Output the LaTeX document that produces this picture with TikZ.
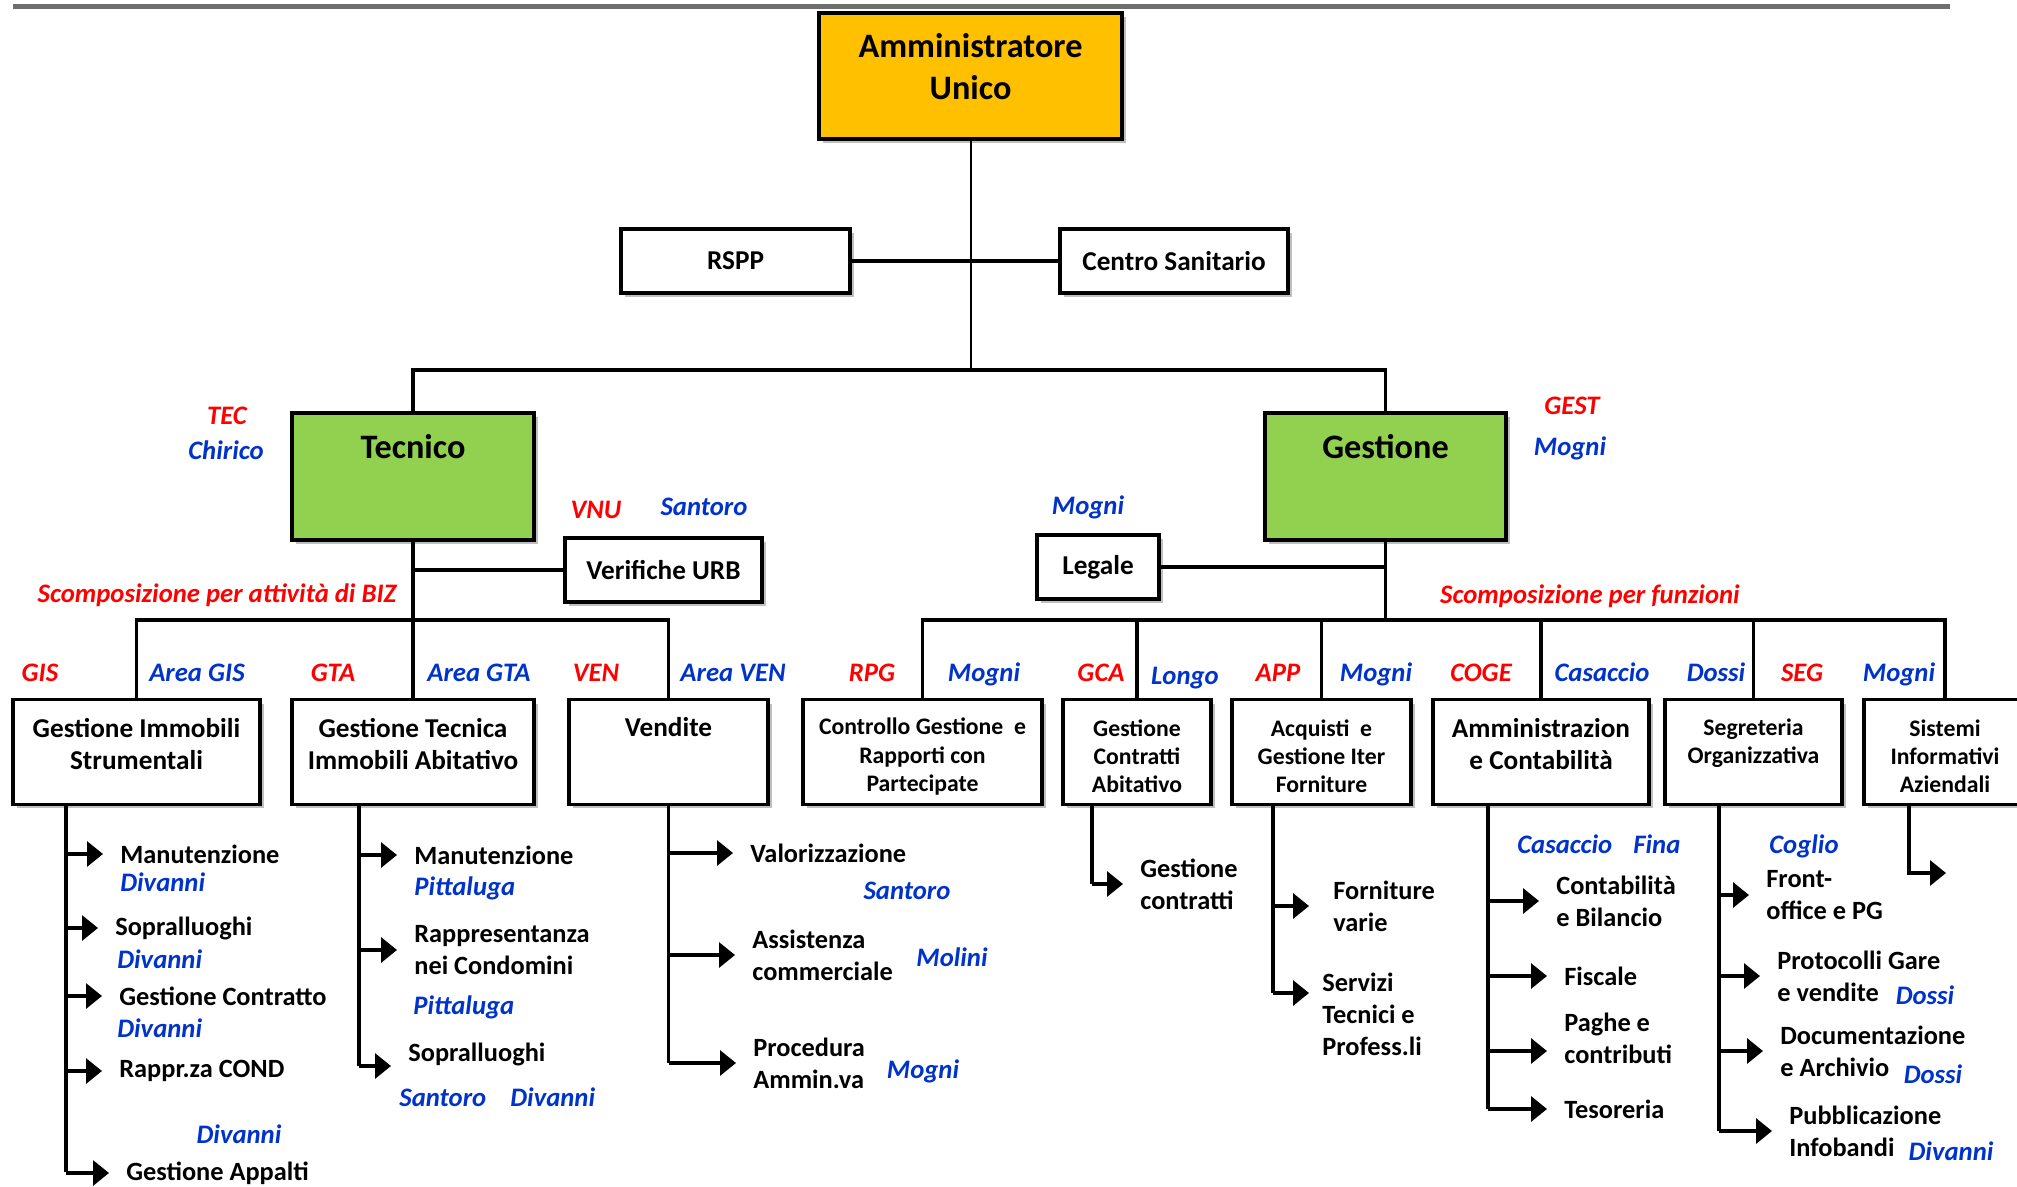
\documentclass[tikz,border=0pt]{standalone}
\usepackage{fontspec}
\setmainfont{Carlito}
\usetikzlibrary{arrows.meta,shadows}
\definecolor{unicoorange}{RGB}{255,192,0}
\definecolor{areagreen}{RGB}{146,208,80}
\definecolor{codered}{RGB}{255,0,0}
\definecolor{nameblue}{RGB}{0,51,204}
\definecolor{railgray}{RGB}{110,110,110}

\begin{document}
\begin{tikzpicture}[
    x=0.02cm, y=-0.02cm,
    box/.style={rectangle,draw,line width=0.07cm,fill=white,align=center,inner sep=0pt,
      drop shadow={shadow xshift=0.08cm,shadow yshift=-0.08cm,fill=black!25,opacity=1}},
    topbox/.style={box,font=\fontsize{19.5}{24}\selectfont\bfseries},
    mainbox/.style={box,font=\fontsize{15.5}{18.5}\selectfont\bfseries},
    smallbox/.style={box,font=\fontsize{13.5}{16}\selectfont\bfseries},
    unit/.style={minimum height=2.1cm},
    title/.style={font=\fontsize{19.5}{24}\selectfont\bfseries,align=center,anchor=center},
    item/.style={anchor=west,align=left,inner sep=0pt,font=\fontsize{15}{18.2}\selectfont\bfseries},
    code/.style={text=codered,font=\fontsize{15.2}{17}\selectfont\bfseries\itshape,
      inner sep=0pt,text height=0.85em,text depth=0.1em},
    who/.style={code,text=nameblue},
    link/.style={line width=0.065cm},
    tarrow/.style={link,-{Triangle[length=0.32cm,width=0.5cm]},shorten >=0.34cm}
  ]
  \clip (0,0) rectangle (2017,1186);
  \fill[white] (0,0) rectangle (2017,1186);
  \draw[railgray,line width=0.1cm] (13,7) -- (1950,7);

  % vertice
  \node[topbox,fill=unicoorange,minimum width=6.06cm,minimum height=2.52cm,
    label={[title,yshift=-1.1cm]north:Amministratore\\Unico}] (admin) at (970.5,76) {};
  \node[mainbox,minimum width=4.58cm,minimum height=1.28cm] (rspp) at (735.5,261) {RSPP};
  \node[mainbox,minimum width=4.56cm,minimum height=1.28cm] (sanit) at (1174,261) {Centro Sanitario};

  % aree
  \node[topbox,fill=areagreen,minimum width=4.84cm,minimum height=2.54cm,
    label={[title,yshift=-0.7cm]north:Tecnico}] (tec) at (413,476.5) {};
  \node[topbox,fill=areagreen,minimum width=4.82cm,minimum height=2.54cm,
    label={[title,yshift=-0.7cm]north:Gestione}] (gest) at (1385.5,476.5) {};
  \node[mainbox,minimum width=3.94cm,minimum height=1.28cm] (urb) at (663.5,570) {Verifiche URB};
  \node[mainbox,minimum width=2.44cm,minimum height=1.28cm] (legale) at (1098,567) {Legale};

  % unita tecniche
  \node[mainbox,unit,minimum width=4.94cm,text depth=0.32cm] (gis) at (136.5,752) {Gestione Immobili\\Strumentali};
  \node[mainbox,unit,minimum width=4.84cm,text depth=0.32cm] (gta) at (413,752) {Gestione Tecnica\\Immobili Abitativo};
  \node[mainbox,unit,minimum width=3.98cm,text depth=1cm] (ven) at (668.5,752) {Vendite};

  % funzioni
  \node[smallbox,unit,minimum width=4.78cm,text height=1.64cm] (cg) at (922.5,752) {Controllo Gestione\ \ e\\Rapporti con\\Partecipate};
  \node[smallbox,unit,minimum width=2.96cm,text height=1.64cm] (gca) at (1137,752) {Gestione\\Contratti\\Abitativo};
  \node[smallbox,unit,minimum width=3.58cm,text height=1.64cm] (app) at (1321.5,752) {Acquisti\ \ e\\Gestione Iter\\Forniture};
  \node[mainbox,unit,minimum width=4.32cm,text depth=0.32cm] (amm) at (1541,752) {Amministrazion\\e Contabilità};
  \node[smallbox,unit,minimum width=3.54cm,text depth=0.45cm] (seg) at (1753.5,752) {Segreteria\\Organizzativa};
  \node[smallbox,unit,minimum width=3.24cm,text height=1.64cm] (sia) at (1945,752) {Sistemi\\Informativi\\Aziendali};

  % collegamenti
  \coordinate (topbus) at (970.5,370);
  \draw[link,line width=0.04cm] (admin) -- (topbus);
  \draw[link] (rspp) -- (sanit);
  \draw[link] (tec.north) |- (topbus) -| (gest.north);

  \coordinate (tecbus) at (413,620);
  \draw[link] (tec) -- (tecbus);
  \draw[link] (gis.north) |- (tecbus) -| (ven.north);
  \draw[link] (gta) -- (tecbus);
  \draw[link] (urb) -- (urb -| tecbus);

  \coordinate (gestbus) at (1385.5,620);
  \draw[link] (gest) -- (gestbus);
  \draw[link] (cg.north) |- (gestbus) -| (sia.north);
  \foreach \b in {gca,app,amm,seg}
    \draw[link] (\b) -- (\b |- gestbus);
  \draw[link] (legale) -- (legale -| gestbus);

  % sigle e responsabili
  \node[code] (teccode) at (227,418) {TEC};
  \node[who] (tecwho) at (226,453) {Chirico};
  \node[code] (gestcode) at (1572,408) {GEST};
  \node[who] (gestwho) at (1570,449) {Mogni};
  \node[code] (vnucode) at (596,512) {VNU};
  \node[who] (vnuwho) at (704,509) {Santoro};
  \node[who] (legwho) at (1088,508) {Mogni};
  \node[code] (bizlabel) at (217,596) {Scomposizione per attività di BIZ};
  \node[code] (funlabel) at (1590,597) {Scomposizione per funzioni};

  \node[code] (giscode) at (40,675) {GIS};
  \node[who] (giswho) at (197,675) {Area GIS};
  \node[code] (gtacode) at (333,675) {GTA};
  \node[who] (gtawho) at (479,675) {Area GTA};
  \node[code] (vencode) at (596,675) {VEN};
  \node[who] (venwho) at (733,675) {Area VEN};
  \node[code] (rpgcode) at (872,675) {RPG};
  \node[who] (rpgwho) at (984,675) {Mogni};
  \node[code] (gcacode) at (1101,675) {GCA};
  \node[who] (gcawho) at (1185,678) {Longo};
  \node[code] (appcode) at (1278,675) {APP};
  \node[who] (appwho) at (1376,675) {Mogni};
  \node[code] (cogecode) at (1481,675) {COGE};
  \node[who] (cogewho) at (1602,675) {Casaccio};
  \node[who] (segwho1) at (1716,675) {Dossi};
  \node[code] (segcode) at (1802,675) {SEG};
  \node[who] (siawho) at (1899,675) {Mogni};

  % Gestione Immobili Strumentali
  \coordinate (gisend) at (66,1172);
  \draw[link] (gis.south -| gisend) -- (gisend);
  \node[item] (gis1) at (120,854) {Manutenzione};
  \node[who,anchor=west] (gisn1) at (120,885) {Divanni};
  \node[item] (gis2) at (115,928) {Sopralluoghi};
  \node[who,anchor=west] (gisn2) at (117,962) {Divanni};
  \node[item] (gis3) at (119,996) {Gestione Contratto};
  \node[who,anchor=west] (gisn3) at (117,1031) {Divanni};
  \node[item] (gis4) at (119,1071) {Rappr.za COND};
  \node[who] (gisn4) at (239,1137) {Divanni};
  \node[item] (gis5) at (126,1173) {Gestione Appalti};
  \foreach \n in {gis1,gis2,gis3,gis4,gis5}
    \draw[tarrow] (gisend |- \n.west) -- (\n.west);

  % Gestione Tecnica Immobili Abitativo
  \coordinate (gtaend) at (359,1066);
  \draw[link] (gta.south -| gtaend) -- (gtaend);
  \node[item] (gta1) at (414,855) {Manutenzione};
  \node[who,anchor=west] (gtan1) at (414,889) {Pittaluga};
  \node[item] (gta2) at (414,950) {Rappresentanza\\nei Condomini};
  \node[who,anchor=west] (gtan2) at (413,1008) {Pittaluga};
  \node[item] (gta3) at (408,1054) {Sopralluoghi};
  \node[who,anchor=west] (gtan3) at (399,1100) {Santoro};
  \node[who,anchor=west] (gtan4) at (510,1100) {Divanni};
  \draw[tarrow] (gtaend |- gta1.west) -- (gta1.west);
  \draw[tarrow] (gtaend |- gta2.west) -- (gta2.west);
  \draw[tarrow] ([yshift=-0.24cm]gta3.west -| gtaend) -- ([yshift=-0.24cm]gta3.west);

  % Vendite
  \coordinate (venend) at (668.5,1063);
  \draw[link] (ven.south -| venend) -- (venend);
  \node[item] (ven1) at (750,853) {Valorizzazione};
  \node[who] (venn1) at (907,893) {Santoro};
  \node[item] (ven2) at (752,955) {Assistenza\\commerciale};
  \node[who] (venn2) at (952,960) {Molini};
  \node[item] (ven3) at (753,1063) {Procedura\\Ammin.va};
  \node[who] (venn3) at (923,1072) {Mogni};
  \foreach \n in {ven1,ven2,ven3}
    \draw[tarrow] (venend |- \n.west) -- (\n.west);

  % Gestione Contratti Abitativo
  \coordinate (gcaend) at (1092,884);
  \draw[link] (gca.south -| gcaend) -- (gcaend);
  \node[item] (gca1) at (1140,884) {Gestione\\contratti};
  \draw[tarrow] (gcaend |- gca1.west) -- (gca1.west);

  % Acquisti
  \coordinate (append) at (1273,993);
  \draw[link] (app.south -| append) -- (append);
  \node[item] (app1) at (1333,906) {Forniture\\varie};
  \node[item] (app2) at (1322,1014) {Servizi\\Tecnici e\\Profess.li};
  \draw[tarrow,shorten >=0.48cm] (append |- app1.west) -- (app1.west);
  \draw[tarrow,shorten >=0.26cm] ([yshift=0.42cm]app2.west -| append) -- ([yshift=0.42cm]app2.west);

  % Amministrazione e Contabilita
  \coordinate (ammend) at (1488,1109);
  \draw[link] (amm.south -| ammend) -- (ammend);
  \node[who,anchor=west] (ammn1) at (1517,847) {Casaccio};
  \node[who,anchor=west] (ammn2) at (1633,847) {Fina};
  \node[item] (amm1) at (1556,901) {Contabilità\\e Bilancio};
  \node[item] (amm2) at (1564,976) {Fiscale};
  \node[item] (amm3) at (1564,1038) {Paghe e\\contributi};
  \node[item] (amm4) at (1564,1109) {Tesoreria};
  \draw[tarrow] (ammend |- amm1.west) -- (amm1.west);
  \draw[tarrow] (ammend |- amm2.west) -- (amm2.west);
  \draw[tarrow] ([yshift=-0.26cm]amm3.west -| ammend) -- ([yshift=-0.26cm]amm3.west);
  \draw[tarrow] (ammend |- amm4.west) -- (amm4.west);

  % Segreteria Organizzativa
  \coordinate (segend) at (1719,1131);
  \draw[link] (seg.south -| segend) -- (segend);
  \node[who,anchor=west] (segn1) at (1769,847) {Coglio};
  \node[item] (seg1) at (1766,895) {Front-\\office e PG};
  \node[item] (seg2) at (1777,976) {Protocolli Gare\\e vendite};
  \node[who] (segn2) at (1925,998) {Dossi};
  \node[item] (seg3) at (1780,1051) {Documentazione\\e Archivio};
  \node[who] (segn3) at (1933,1077) {Dossi};
  \node[item] (seg4) at (1789,1131) {Pubblicazione\\Infobandi};
  \node[who] (segn4) at (1951,1154) {Divanni};
  \foreach \n in {seg1,seg2,seg3,seg4}
    \draw[tarrow] (segend |- \n.west) -- (\n.west);

  % Sistemi Informativi
  \coordinate (siaend) at (1909,873);
  \coordinate (siatip) at (1946,873);
  \draw[tarrow,shorten >=0pt] (sia.south -| siaend) -- (siaend) -- (siatip);
\end{tikzpicture}
\end{document}
